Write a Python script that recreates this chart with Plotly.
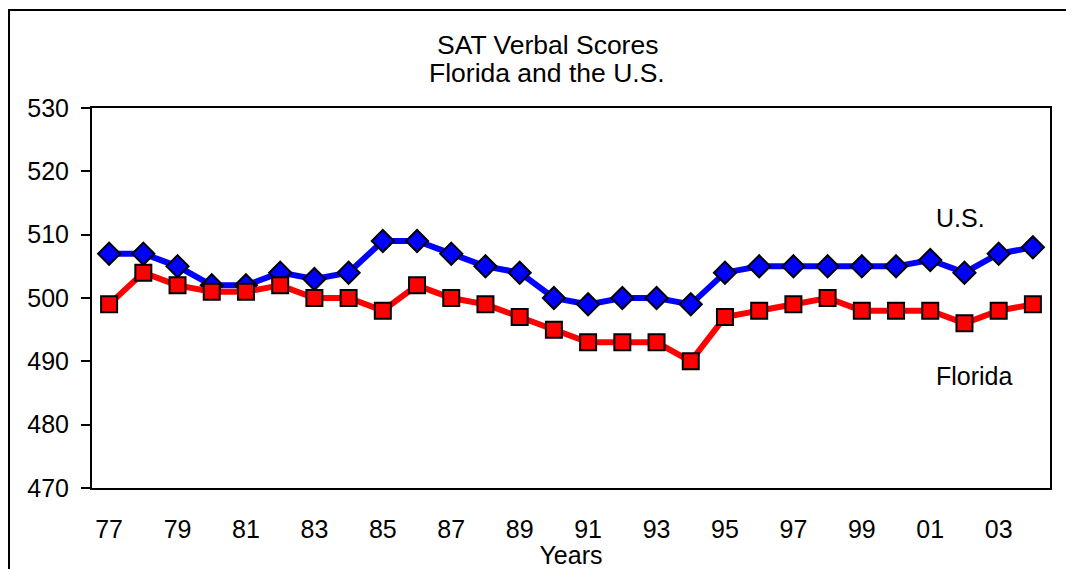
import plotly.graph_objects as go

years = ["77","78","79","80","81","82","83","84","85","86","87","88","89","90",
         "91","92","93","94","95","96","97","98","99","00","01","02","03","04"]
us_scores = [507,507,505,502,502,504,503,504,509,509,507,505,504,500,
             499,500,500,499,504,505,505,505,505,505,506,504,507,508]
florida_scores = [499,504,502,501,501,502,500,500,498,502,500,499,497,495,
                  493,493,493,490,497,498,499,500,498,498,498,496,498,499]
tick_labels = years[::2]
title_lines = ["SAT Verbal Scores", "Florida and the U.S."]

FONT = "Liberation Sans, Arial, sans-serif"
FS = 25
TFS = 26.5

fig = go.Figure()
fig.add_trace(go.Scatter(
    x=years, y=us_scores, mode="lines+markers", name="U.S.",
    line=dict(color="#0000FF", width=6),
    marker=dict(symbol="diamond", size=17, color="#0000FF",
                line=dict(color="black", width=2)),
))
fig.add_trace(go.Scatter(
    x=years, y=florida_scores, mode="lines+markers", name="Florida",
    line=dict(color="#FF0000", width=6),
    marker=dict(symbol="square", size=16, color="#FF0000",
                line=dict(color="black", width=2)),
))

# page has an 8px body margin; figure coordinates are page - 8
W, H = 1066, 561
L, T = 84, 100
pw, ph = 958, 380
R, B = W - L - pw, H - T - ph

def px_x(x):
    return (x - L) / pw

def px_y(y):
    return (T + ph - y) / ph

fig.update_layout(
    width=W, height=H,
    margin=dict(l=L, r=R, t=T, b=B, autoexpand=False),
    paper_bgcolor="white", plot_bgcolor="white",
    showlegend=False,
    font=dict(family=FONT, size=FS, color="black"),
    xaxis=dict(type="category", tickmode="array", tickvals=tick_labels,
               ticktext=tick_labels, showgrid=False, zeroline=False,
               showline=True, linecolor="black", linewidth=2, mirror=True,
               ticks="", ticklabelstandoff=18, automargin=False,
               title=dict(text="Years", standoff=4, font=dict(size=FS)),
               range=[-0.5, len(years) - 0.5]),
    yaxis=dict(range=[470, 530], dtick=10, showgrid=False, zeroline=False,
               showline=True, linecolor="black", linewidth=2, mirror=True,
               ticks="outside", ticklen=9, tickwidth=2, tickcolor="black",
               ticklabelstandoff=7, automargin=False),
)

# title lines (tight line spacing)
for line_text, yc in zip(title_lines, [37, 65]):
    fig.add_annotation(text=line_text, xref="paper", yref="paper",
                       x=px_x(539), y=px_y(yc), xanchor="center",
                       yanchor="middle", showarrow=False,
                       font=dict(family=FONT, size=TFS, color="black"))

fig.add_annotation(text="U.S.", xref="paper", yref="y",
                   x=px_x(926), y=470 + (480 - 210) / (ph / 60),
                   xanchor="left", yanchor="middle", showarrow=False,
                   font=dict(family=FONT, size=FS, color="black"))
fig.add_annotation(text="Florida", xref="paper", yref="y",
                   x=px_x(926), y=470 + (480 - 368) / (ph / 60),
                   xanchor="left", yanchor="middle", showarrow=False,
                   font=dict(family=FONT, size=FS, color="black"))

# outer frame (left and top edges visible)
fig.add_shape(type="line", xref="paper", yref="paper",
              x0=px_x(1), x1=px_x(1), y0=px_y(H + 20), y1=px_y(1),
              line=dict(color="black", width=2))
fig.add_shape(type="line", xref="paper", yref="paper",
              x0=px_x(0), x1=px_x(W + 20), y0=px_y(2), y1=px_y(2),
              line=dict(color="black", width=2))

fig.write_html("out.html")
